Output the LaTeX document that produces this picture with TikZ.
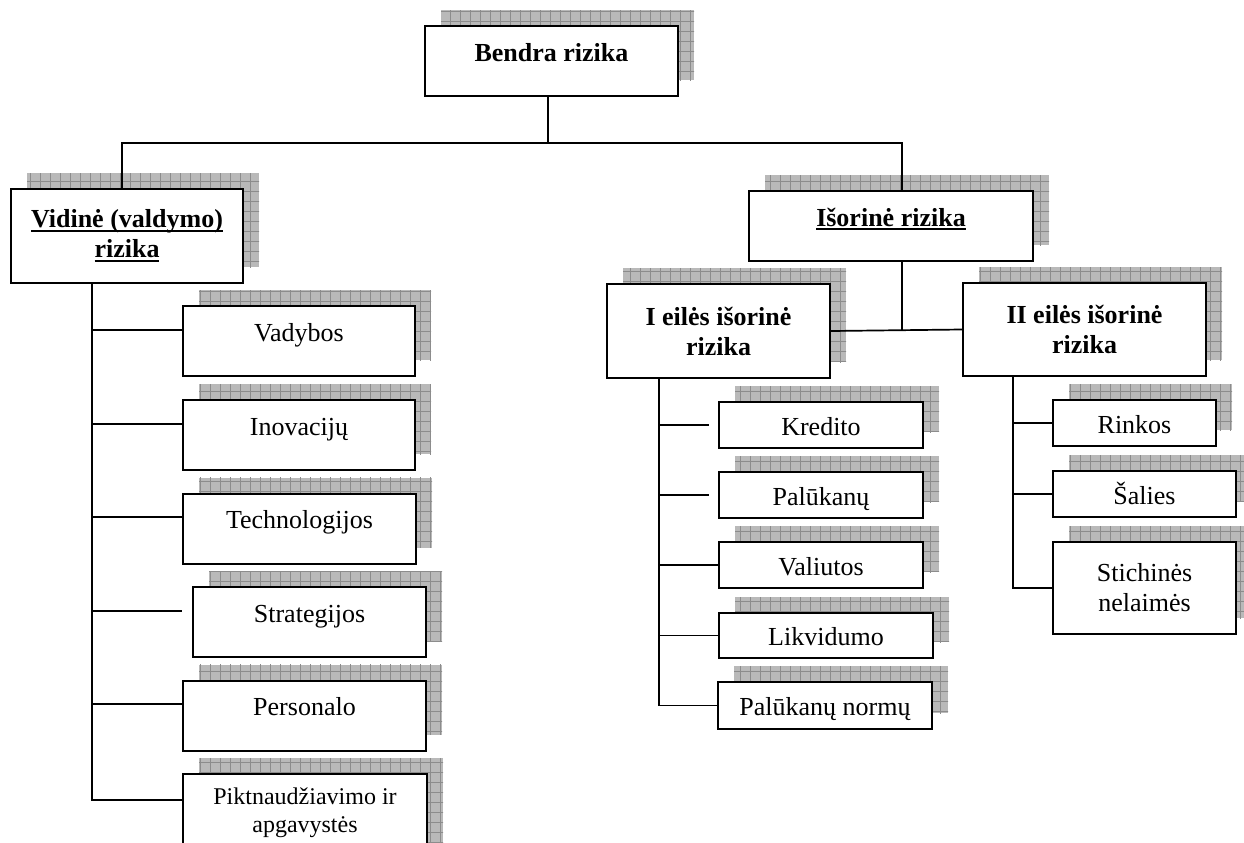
\documentclass[tikz,border=0pt]{standalone}
\usepackage{fontspec}
\setmainfont{Liberation Serif}
\usetikzlibrary{shadows,patterns.meta}

\newsavebox{\ulbox}
\newcommand{\thickul}[1]{\sbox{\ulbox}{#1}\rlap{\rule[-2.2pt]{\wd\ulbox}{1.1pt}}\usebox{\ulbox}}

\tikzset{
  risk/.style={draw, line width=1pt, fill=white, inner sep=0pt, align=center,
    font=\fontsize{13}{15}\selectfont,
    general shadow={shadow xshift=8pt, shadow yshift=8pt, fill=gray!55},
    general shadow={shadow xshift=8pt, shadow yshift=8pt,
      pattern={Hatch[angle=0, distance=5pt, line width=0.5pt]}, pattern color=gray!90}},
  head/.style={risk, font=\fontsize{13}{15}\selectfont\bfseries},
  mid/.style={text height=6pt, text depth=6pt},
  low/.style={text height=10pt, text depth=0pt},
  link/.style={line width=0.85pt}
}

\begin{document}
\begin{tikzpicture}[x=0.5pt, y=-0.5pt]

\useasboundingbox (0,0) rectangle (1244,842);

% top level
\node[head, mid, minimum width=126.5pt, minimum height=35pt] (bendra) at (551.5,61) {Bendra rizika};

\node[head, minimum width=116pt, minimum height=47pt] (vidine) at (127,236) {\thickul{Vidinė (valdymo)}\\\thickul{rizika}};
\node[head, mid, minimum width=142pt, minimum height=35pt] (isorine) at (891,226) {\thickul{Išorinė rizika}};

\node[head, minimum width=111.5pt, minimum height=47pt] (ieiles) at (718.5,331) {I eilės išorinė\\rizika};
\node[head, minimum width=121.5pt, minimum height=46.5pt] (iieiles) at (1084.5,329.5) {II eilės išorinė\\rizika};

% vidine
\node[risk, mid, minimum width=116pt, minimum height=35pt] (vadybos) at (299,341) {Vadybos};
\node[risk, mid, minimum width=116pt, minimum height=35pt] (inovaciju) at (299,435) {Inovacijų};
\node[risk, mid, minimum width=116.5pt, minimum height=35pt] (technologijos) at (299.5,528.5) {Technologijos};
\node[risk, mid, minimum width=116.5pt, minimum height=35pt] (strategijos) at (309.5,622) {Strategijos};
\node[risk, mid, minimum width=121.5pt, minimum height=35pt] (personalo) at (304.5,715.5) {Personalo};
\node[risk, font=\fontsize{12}{14}\selectfont, text depth=12pt, minimum width=122pt, minimum height=48pt] (pikt) at (305,822) {Piktnaudžiavimo ir\\apgavystės};

% I eiles
\node[risk, low, minimum width=102pt, minimum height=23pt] (kredito) at (821,425) {Kredito};
\node[risk, low, minimum width=102pt, minimum height=23pt] (palukanu) at (821,495) {Palūkanų};
\node[risk, low, minimum width=102pt, minimum height=23pt] (valiutos) at (821,565) {Valiutos};
\node[risk, low, minimum width=107pt, minimum height=22.5pt] (likvidumo) at (826,635.5) {Likvidumo};
\node[risk, low, minimum width=107pt, minimum height=23.5pt] (normu) at (825,705.5) {Palūkanų normų};

% II eiles
\node[risk, low, minimum width=81.5pt, minimum height=23pt] (rinkos) at (1134.5,423) {Rinkos};
\node[risk, low, minimum width=91.5pt, minimum height=23pt] (salies) at (1144.5,494) {Šalies};
\node[risk, minimum width=91.5pt, minimum height=46pt] (stichines) at (1144.5,588) {Stichinės\\nelaimės};

% connectors
\coordinate (split) at (548,143);
\draw[link] (bendra.south -| split) -- (split);
\draw[link] ([xshift=-2.5pt]vidine.north) |- (split) -| ([xshift=5.5pt]isorine.north);

\coordinate (vtrunk) at ([xshift=-17.5pt]vidine.south);
\foreach \n/\dy/\gap in {vadybos/5.5pt/0pt, inovaciju/5.5pt/0pt, technologijos/5.75pt/0pt,
    strategijos/5.5pt/5pt, personalo/5.75pt/0pt, pikt/11pt/0pt}
  \draw[link] (vtrunk) |- ([xshift=-\gap, yshift=\dy]\n.west);

\coordinate (drop) at ([xshift=5.5pt]isorine.south);
\draw[link] (drop) -- (drop |- ieiles.east);
\draw[link] (ieiles.east) -- (iieiles.west);

\coordinate (itrunk) at ([xshift=-29.75pt]ieiles.south);
\foreach \n/\gap in {kredito/4.5pt, palukanu/4.5pt, valiutos/0pt, likvidumo/0pt, normu/0pt}
  \draw[link] (itrunk) |- ([xshift=-\gap]\n.west);

\coordinate (iitrunk) at ([xshift=-35.75pt]iieiles.south);
\foreach \n in {rinkos, salies, stichines}
  \draw[link] (iitrunk) |- (\n.west);

\end{tikzpicture}
\end{document}
